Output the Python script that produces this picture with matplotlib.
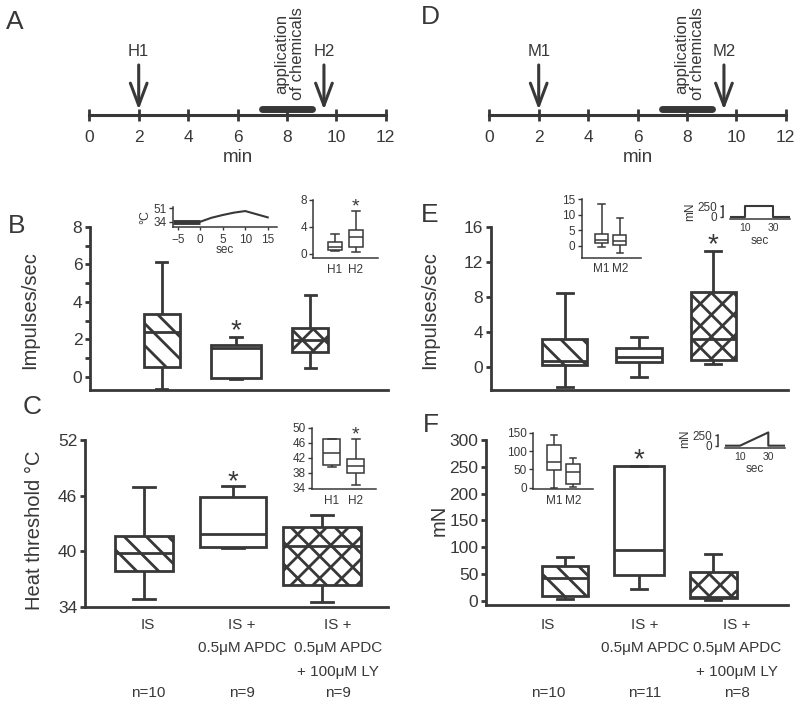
import matplotlib
matplotlib.use('Agg')
import matplotlib.pyplot as plt
from matplotlib.lines import Line2D
from matplotlib.transforms import IdentityTransform

plt.rcParams['font.family'] = ['Liberation Sans', 'DejaVu Sans']

INK = '#383838'
W, H = 800, 707

# ---- data ----
timeline_ticks = [0, 2, 4, 6, 8, 10, 12]
test_times = [2, 9.5]
heat_tests = ['H1', 'H2']
mech_tests = ['M1', 'M2']
chem_window = [7, 9]

group_lines = [['IS'], ['IS +', '0.5\u03bcM APDC'], ['IS +', '0.5\u03bcM APDC', '+ 100\u03bcM LY']]
n_heat = [10, 9, 9]
n_mech = [10, 11, 8]

# five-number summaries: [whisker low, Q1, median, Q3, whisker high]
heat_impulses = [[-0.62, 0.55, 2.42, 3.34, 6.12],
                 [-0.1, -0.07, 1.55, 1.71, 2.12],
                 [0.5, 1.35, 1.97, 2.6, 4.37]]
heat_threshold = [[34.8, 37.85, 39.8, 41.6, 46.9],
                  [40.3, 40.4, 41.9, 45.8, 47.0],
                  [34.5, 36.3, 40.6, 42.6, 43.9]]
mech_impulses = [[-2.3, 0.26, 0.7, 3.22, 8.49],
                 [-1.14, 0.57, 1.21, 2.16, 3.48],
                 [0.38, 0.83, 3.22, 8.6, 13.27]]
mech_threshold = [[2.6, 9, 42, 65, 82],
                  [21, 48, 94.6, 252, 252],
                  [1.3, 4.5, 7.5, 54, 86.6]]

inset_heat_impulses = [[0.4, 0.6, 1.0, 1.7, 2.9], [0.3, 1.1, 2.5, 3.5, 6.3]]
inset_heat_threshold = [[39.4, 40.0, 43.3, 46.9, 46.9], [34.7, 38.0, 39.8, 41.6, 46.9]]
inset_mech_impulses = [[-0.5, 0.8, 1.8, 3.8, 13.3], [-2.2, 0.2, 1.5, 3.4, 8.8]]
inset_mech_threshold = [[0, 48, 71, 116, 143.7], [2.7, 9.3, 43.6, 64.6, 80]]

sig_heat_impulses = [False, True, False]
sig_heat_threshold = [False, True, False]
sig_mech_impulses = [False, False, True]
sig_mech_threshold = [False, True, False]
sig_inset = [False, True]

temp_sec = [-6, 0, 2.5, 5, 7.5, 10, 12.5, 15]
temp_c = [34, 34, 39, 42.5, 45.5, 47.5, 43.5, 39.5]
step_sec = [0, 10, 10, 30, 30, 42]
step_mn = [0, 0, 250, 250, 0, 0]
ramp_sec = [0, 10, 30, 30, 42]
ramp_mn = [0, 0, 310, 0, 0]

hatches = ['\\', None, 'x']

fig = plt.figure(figsize=(W / 100, H / 100), dpi=100)


def rect(left, top, right, bottom):
    return [left / W, 1 - bottom / H, (right - left) / W, (bottom - top) / H]


def fy(y):
    return 1 - y / H


def add_hatch(ax, patch, kind, step, lw):
    bb = patch.get_path().get_extents(patch.get_transform())
    x0, y0, x1, y1 = bb.x0, bb.y0, bb.x1, bb.y1
    h = y1 - y0
    dirs = [-1] if kind == '\\' else [1, -1]
    for d in dirs:
        c = x0 - h
        while c < x1 + h:
            ys = [y0, y1] if d > 0 else [y1, y0]
            ln = Line2D([c, c + h], ys, transform=IdentityTransform(),
                        lw=lw, color=INK, zorder=2.2)
            ln.set_clip_path(patch)
            ax.add_artist(ln)
            c += step


def draw_boxes(ax, summaries, widths, capwidths, lw, hatch=None, step=22):
    stats = [dict(whislo=s[0], q1=s[1], med=s[2], q3=s[3], whishi=s[4]) for s in summaries]
    pos = list(range(1, len(stats) + 1))
    art = ax.bxp(stats, positions=pos, widths=widths, capwidths=capwidths,
                 patch_artist=True, showfliers=False, manage_ticks=False,
                 boxprops=dict(facecolor='white', edgecolor=INK, linewidth=lw),
                 whiskerprops=dict(color=INK, linewidth=lw, solid_capstyle='butt'),
                 capprops=dict(color=INK, linewidth=lw),
                 medianprops=dict(color=INK, linewidth=lw))
    if hatch:
        for patch, k in zip(art['boxes'], hatch):
            if k:
                add_hatch(ax, patch, k, step, lw)
    return art


def stars(ax, summaries, flags, size, offset):
    for i, (s, f) in enumerate(zip(summaries, flags)):
        if f:
            ax.annotate('*', xy=(i + 1, s[4]), xytext=(0, offset), textcoords='offset points',
                        ha='center', va='center', fontsize=size, color=INK)


def main_axes(box, xlim, ylim, yticks, minor=None):
    ax = fig.add_axes(rect(*box))
    ax.set_xlim(xlim)
    ax.set_ylim(ylim)
    for s in ['top', 'right']:
        ax.spines[s].set_visible(False)
    for s in ['left', 'bottom']:
        ax.spines[s].set_linewidth(2)
        ax.spines[s].set_color(INK)
    ax.set_yticks(yticks)
    if minor:
        ax.set_yticks(minor, minor=True)
    ax.tick_params(axis='y', which='both', direction='out', length=3.5, width=2,
                   color=INK, labelsize=12.5, labelcolor=INK, pad=2)
    ax.set_xticks([])
    ax.patch.set_alpha(0)
    return ax


def inset_axes(box, xlim, ylim, yticks, xlabels):
    ax = fig.add_axes(rect(*box))
    ax.set_xlim(xlim)
    ax.set_ylim(ylim)
    for s in ['top', 'right']:
        ax.spines[s].set_visible(False)
    for s in ['left', 'bottom']:
        ax.spines[s].set_linewidth(1.1)
        ax.spines[s].set_color(INK)
    ax.set_yticks(yticks)
    ax.tick_params(axis='y', direction='out', length=3, width=1, color=INK,
                   labelsize=8.5, labelcolor=INK, pad=1.5)
    if xlabels:
        ax.set_xticks([1, 2])
        ax.set_xticklabels(xlabels)
        ax.tick_params(axis='x', length=0, labelsize=8.5, labelcolor=INK, pad=4)
    ax.patch.set_alpha(0)
    return ax


def timeline(box, labels):
    ax = fig.add_axes(rect(*box))
    ax.set_xlim(0, 12)
    ax.set_ylim(0, 1)
    for s in ['top', 'right', 'left']:
        ax.spines[s].set_visible(False)
    ax.spines['bottom'].set_linewidth(2.2)
    ax.spines['bottom'].set_color(INK)
    ax.set_xticks(timeline_ticks)
    ax.tick_params(axis='x', direction='inout', length=8, width=2, color=INK,
                   labelsize=12.5, labelcolor=INK, pad=7)
    ax.set_yticks([])
    ax.set_xlabel('min', fontsize=13.5, color=INK, labelpad=3)
    for t, lab in zip(test_times, labels):
        ax.annotate('', xy=(t, 0.07), xytext=(t, 0.667),
                    arrowprops=dict(arrowstyle='->,head_length=0.8,head_width=0.3',
                                    lw=2.2, color=INK, shrinkA=0, shrinkB=0,
                                    mutation_scale=20))
        ax.text(t, 0.844, lab, ha='center', va='center', fontsize=12, color=INK)
    ax.plot(chem_window, [0.075, 0.075], lw=5, color=INK, solid_capstyle='round', clip_on=False)
    ax.text(8.1, 0.2, 'application\nof chemicals', rotation=90, ha='center', va='bottom',
            fontsize=12, linespacing=1.05, multialignment='center', color=INK)
    ax.patch.set_alpha(0)
    return ax


def category_labels(xs_px, ns):
    rows = [625, 648, 672]
    for x, lines, n in zip(xs_px, group_lines, ns):
        for j, s in enumerate(lines):
            fig.text(x / W, fy(rows[j]), s, ha='center', va='center', fontsize=11, color=INK)
        fig.text(x / W, fy(693), 'n=%d' % n, ha='center', va='center', fontsize=11, color=INK)


# ---- A / D timelines ----
timeline((89.3, 40, 385.7, 115), heat_tests)
timeline((489.3, 40, 785.7, 115), mech_tests)

# ---- B ----
axB = main_axes((90, 227, 388, 390), (0.03, 4.05), (-0.7, 8), [0, 2, 4, 6, 8], [1, 3, 5, 7])
draw_boxes(axB, heat_impulses, [0.49, 0.68, 0.49], 0.15, 2, hatches, 22)
stars(axB, heat_impulses, sig_heat_impulses, 20, 4)

axBt = fig.add_axes(rect(173.3, 206.7, 276.7, 226.7))
axBt.set_xlim(-6, 17)
axBt.set_ylim(27.7, 53)
for s in ['top', 'right']:
    axBt.spines[s].set_visible(False)
for s in ['left', 'bottom']:
    axBt.spines[s].set_linewidth(1.1)
    axBt.spines[s].set_color(INK)
axBt.plot(temp_sec[:2], temp_c[:2], lw=3.5, color=INK, solid_capstyle='butt')
axBt.plot(temp_sec[1:], temp_c[1:], lw=1.5, color=INK)
axBt.set_yticks([34, 51])
axBt.set_xticks([-5, 0, 5, 10, 15])
axBt.tick_params(axis='y', length=3, width=1, color=INK, labelsize=8.5, labelcolor=INK, pad=1.5)
axBt.tick_params(axis='x', length=2, width=1, color=INK, labelsize=8.5, labelcolor=INK, pad=3)
axBt.set_xlabel('sec', fontsize=8.5, color=INK, labelpad=-1)
axBt.set_ylabel('\u00b0C', fontsize=9, color=INK, labelpad=2)
axBt.patch.set_alpha(0)

axBi = inset_axes((313.3, 200, 378, 258), (-0.03, 3.05), (-0.6, 8), [0, 4, 8], heat_tests)
draw_boxes(axBi, inset_heat_impulses, 0.67, 0.35, 1.1)
stars(axBi, inset_heat_impulses, sig_inset, 14, 3)

# ---- C ----
axC = main_axes((85, 440, 388, 606.7), (0.337, 3.74), (34, 52), [34, 40, 46, 52])
draw_boxes(axC, heat_threshold, [0.66, 0.75, 0.88], 0.24, 2, hatches, 22)
stars(axC, heat_threshold, sig_heat_threshold, 20, 3)

axCi = inset_axes((312, 427.7, 376, 489.3), (0.156, 2.86), (33.57, 50), [34, 38, 42, 46, 50], heat_tests)
draw_boxes(axCi, inset_heat_threshold, 0.72, 0.35, 1.1)
stars(axCi, inset_heat_threshold, sig_inset, 14, 3)

# ---- E ----
axE = main_axes((490.7, 226.7, 788, 390), (0.0, 4.01), (-2.6, 16), [0, 4, 8, 12, 16])
draw_boxes(axE, mech_impulses, 0.61, 0.22, 2, hatches, 22)
stars(axE, mech_impulses, sig_mech_impulses, 20, 4)

axEi = inset_axes((581.7, 199, 640.7, 257.7), (-0.09, 3.13), (-3.86, 15), [0, 5, 10, 15], mech_tests)
draw_boxes(axEi, inset_mech_impulses, 0.71, 0.35, 1.1)

# ---- F ----
axF = main_axes((486, 440, 788, 605), (-0.07, 4.01), (-8, 300), [0, 50, 100, 150, 200, 250, 300])
draw_boxes(axF, mech_threshold, [0.62, 0.68, 0.64], 0.22, 2, hatches, 22)
stars(axF, mech_threshold, sig_mech_threshold, 20, 4)

axFi = inset_axes((533.3, 432.7, 593.3, 489.3), (-0.09, 3.07), (-4.4, 150), [0, 50, 100, 150], mech_tests)
draw_boxes(axFi, inset_mech_threshold, 0.74, 0.35, 1.1)


# ---- force protocol insets ----
def protocol(box, xlim, ylim, xs, ys):
    ax = fig.add_axes(rect(*box))
    ax.set_xlim(xlim)
    ax.set_ylim(ylim)
    for s in ['top', 'right']:
        ax.spines[s].set_visible(False)
    ax.spines['left'].set_bounds(0, 250)
    ax.spines['left'].set_position(('outward', 5))
    for s in ['left', 'bottom']:
        ax.spines[s].set_linewidth(1.1)
        ax.spines[s].set_color(INK)
    ax.plot(xs, ys, lw=1.5, color=INK)
    ax.set_yticks([0, 250])
    ax.set_xticks([10, 30])
    ax.tick_params(axis='y', length=2.5, width=1, color=INK, labelsize=8.5, labelcolor=INK, pad=1.5)
    ax.tick_params(axis='x', length=0, labelsize=7.5, labelcolor=INK, pad=3)
    ax.set_xlabel('sec', fontsize=8.5, color=INK, labelpad=1)
    ax.set_ylabel('mN', fontsize=8.5, color=INK, labelpad=1)
    ax.patch.set_alpha(0)
    return ax


protocol((730, 204, 790, 219), (-0.6, 42), (-54, 297), step_sec, step_mn)
protocol((725, 430, 785, 447.7), (-0.6, 41.8), (-47, 367), ramp_sec, ramp_mn)

# ---- axis titles, category labels, panel letters ----
fig.text(30 / W, fy(310), 'Impulses/sec', rotation=90, ha='center', va='center', fontsize=14.5, color=INK)
fig.text(35 / W, fy(530), 'Heat threshold \u00b0C', rotation=90, ha='center', va='center', fontsize=14.5, color=INK)
fig.text(430 / W, fy(310), 'Impulses/sec', rotation=90, ha='center', va='center', fontsize=14.5, color=INK)
fig.text(439 / W, fy(520), 'mN', rotation=90, ha='center', va='center', fontsize=14.5, color=INK)

category_labels([148, 242, 338], n_heat)
category_labels([548, 645, 737], n_mech)

for letter, x, y in [('A', 15, 22), ('D', 430, 17), ('B', 17, 226),
                     ('E', 430, 215), ('C', 32, 407), ('F', 431, 425)]:
    fig.text(x / W, fy(y), letter, ha='center', va='center', fontsize=19, color=INK)

fig.savefig('out.png', dpi=100, facecolor='white')
